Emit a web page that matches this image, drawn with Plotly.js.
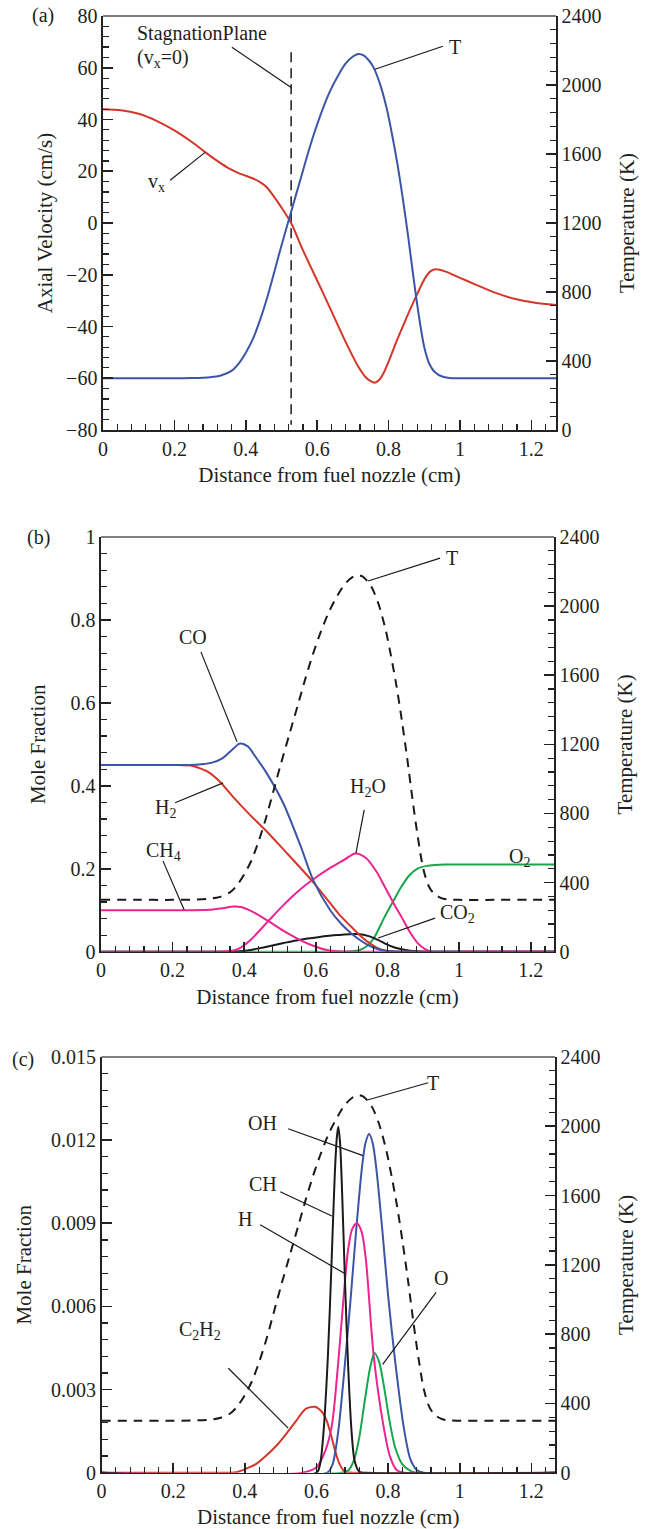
<!DOCTYPE html>
<html>
<head>
<meta charset="utf-8">
<script src="https://cdn.plot.ly/plotly-3.0.1.min.js"></script>
<style>
  html, body { margin: 0; padding: 0; background: #ffffff; }
  #chart { width: 648px; height: 1529px; }
</style>
</head>
<body>
<div id="chart"></div>
<script>
// ---------- Shared temperature profile (K) vs distance (cm) ----------
const tempX = [0, 0.1, 0.2, 0.25, 0.3, 0.33, 0.36, 0.38, 0.4, 0.42, 0.44, 0.46, 0.48, 0.5, 0.527, 0.55, 0.57, 0.59, 0.61, 0.635, 0.66, 0.68, 0.7, 0.715, 0.73, 0.745, 0.757, 0.775, 0.795, 0.81, 0.825, 0.84, 0.855, 0.87, 0.885, 0.9, 0.915, 0.93, 0.95, 0.97, 1.0, 1.1, 1.2, 1.27];
const tempK = [300, 300, 300, 301, 306, 316, 343, 385, 448, 528, 638, 768, 918, 1070, 1265, 1430, 1575, 1710, 1830, 1960, 2060, 2125, 2165, 2180, 2172, 2142, 2105, 2012, 1862, 1710, 1540, 1340, 1120, 880, 660, 480, 380, 335, 310, 302, 300, 300, 300, 300];

// ---------- Panel (a): axial velocity (cm/s) ----------
const vxX = [0, 0.05, 0.1, 0.15, 0.2, 0.25, 0.286, 0.32, 0.35, 0.38, 0.42, 0.44, 0.458, 0.48, 0.505, 0.527, 0.56, 0.614, 0.683, 0.715, 0.735, 0.75, 0.761, 0.772, 0.785, 0.8, 0.82, 0.845, 0.869, 0.903, 0.918, 0.932, 0.96, 1.0, 1.042, 1.1, 1.158, 1.21, 1.27];
const vxV = [44, 43.6, 42.2, 39.5, 35.8, 31.2, 27.4, 24, 21.3, 19.3, 17.2, 15.8, 13.9, 10, 4.9, 0, -10.5, -26.3, -46.9, -55.5, -59.5, -61.1, -61.7, -60.9, -58.3, -53.6, -46.5, -38.3, -30.8, -21.1, -18.6, -17.9, -18.8, -21.2, -23.7, -27, -29.5, -30.8, -31.7];
const stagX = [0.527, 0.527];
const stagV = [66, -78];

// ---------- Panel (b): major species mole fractions ----------
const coX = [0, 0.1, 0.2, 0.25, 0.28, 0.31, 0.34, 0.37, 0.388, 0.41, 0.43, 0.463, 0.509, 0.556, 0.593, 0.64, 0.67, 0.699, 0.725, 0.746, 0.77, 0.79, 0.82, 0.9, 1.0, 1.27];
const coY = [0.45, 0.45, 0.45, 0.45, 0.452, 0.456, 0.467, 0.49, 0.502, 0.495, 0.472, 0.43, 0.358, 0.258, 0.172, 0.10, 0.068, 0.044, 0.027, 0.016, 0.007, 0.003, 0.0005, 0, 0, 0];
const h2X = [0, 0.1, 0.2, 0.25, 0.277, 0.3, 0.332, 0.37, 0.416, 0.463, 0.51, 0.556, 0.59, 0.64, 0.67, 0.699, 0.725, 0.746, 0.77, 0.792, 0.82, 0.9, 1.0, 1.27];
const h2Y = [0.45, 0.45, 0.45, 0.449, 0.442, 0.433, 0.410, 0.372, 0.330, 0.290, 0.246, 0.203, 0.170, 0.117, 0.085, 0.06, 0.038, 0.023, 0.01, 0.003, 0.0005, 0, 0, 0];
const ch4X = [0, 0.1, 0.2, 0.25, 0.3, 0.34, 0.37, 0.39, 0.42, 0.463, 0.51, 0.556, 0.6, 0.631, 0.66, 0.7, 0.8, 1.0, 1.27];
const ch4Y = [0.1, 0.1, 0.1, 0.1, 0.101, 0.105, 0.109, 0.108, 0.098, 0.076, 0.05, 0.028, 0.012, 0.004, 0.001, 0, 0, 0, 0];
const h2oX = [0, 0.2, 0.33, 0.35, 0.37, 0.39, 0.416, 0.463, 0.51, 0.556, 0.59, 0.64, 0.68, 0.71, 0.74, 0.77, 0.792, 0.815, 0.839, 0.862, 0.885, 0.905, 0.923, 1.0, 1.27];
const h2oY = [0, 0, 0, 0.001, 0.003, 0.01, 0.027, 0.07, 0.113, 0.15, 0.173, 0.202, 0.222, 0.237, 0.226, 0.192, 0.157, 0.12, 0.084, 0.048, 0.02, 0.006, 0, 0, 0];
const co2X = [0, 0.35, 0.38, 0.41, 0.44, 0.463, 0.51, 0.556, 0.606, 0.66, 0.718, 0.75, 0.775, 0.792, 0.82, 0.85, 0.88, 0.9, 1.0, 1.27];
const co2Y = [0, 0, 0.0005, 0.003, 0.008, 0.012, 0.021, 0.029, 0.035, 0.04, 0.0425, 0.037, 0.028, 0.02, 0.01, 0.004, 0.001, 0, 0, 0];
const o2X = [0, 0.6, 0.68, 0.7, 0.718, 0.74, 0.76, 0.792, 0.815, 0.839, 0.862, 0.885, 0.91, 0.932, 0.96, 1.0, 1.27];
const o2Y = [0, 0, 0, 0.001, 0.003, 0.012, 0.03, 0.084, 0.12, 0.157, 0.185, 0.201, 0.207, 0.209, 0.21, 0.21, 0.21];

// ---------- Panel (c): minor species mole fractions ----------
const c2h2X = [0, 0.3, 0.36, 0.38, 0.406, 0.43, 0.46, 0.49, 0.517, 0.545, 0.57, 0.596, 0.615, 0.628, 0.64, 0.652, 0.665, 0.68, 0.7, 1.27];
const c2h2Y = [0, 0, 0, 0.00003, 0.00016, 0.0003, 0.00062, 0.001, 0.00142, 0.0019, 0.0023, 0.00238, 0.0022, 0.0019, 0.0014, 0.0008, 0.0003, 0.00003, 0, 0];
const chX = [0, 0.6, 0.61, 0.62, 0.632, 0.642, 0.651, 0.657, 0.661, 0.666, 0.672, 0.68, 0.689, 0.698, 0.707, 0.72, 0.74, 1.27];
const chY = [0, 0, 0.0003, 0.0015, 0.0042, 0.0075, 0.0107, 0.0121, 0.01248, 0.0119, 0.0100, 0.0068, 0.0037, 0.0015, 0.0004, 0.00003, 0, 0];
const hX = [0, 0.56, 0.6, 0.625, 0.643, 0.661, 0.675, 0.688, 0.7, 0.713, 0.726, 0.738, 0.76, 0.787, 0.805, 0.824, 0.845, 1.27];
const hY = [0, 0, 0.0002, 0.0008, 0.0017, 0.0040, 0.0062, 0.0080, 0.0088, 0.009, 0.0087, 0.0077, 0.0042, 0.0017, 0.0006, 0.0001, 0, 0];
const ohX = [0, 0.63, 0.645, 0.661, 0.68, 0.695, 0.71, 0.727, 0.737, 0.747, 0.757, 0.767, 0.785, 0.8, 0.82, 0.843, 0.862, 0.88, 0.9, 1.27];
const ohY = [0, 0, 0.0003, 0.0015, 0.0040, 0.0062, 0.0086, 0.0110, 0.0119, 0.01222, 0.0119, 0.0110, 0.0086, 0.0064, 0.0040, 0.0017, 0.0005, 0.0001, 0, 0];
const oX = [0, 0.67, 0.69, 0.706, 0.72, 0.735, 0.75, 0.762, 0.775, 0.79, 0.805, 0.82, 0.84, 0.865, 0.88, 1.27];
const oY = [0, 0, 0.0001, 0.0005, 0.0013, 0.0026, 0.0038, 0.00432, 0.0040, 0.0030, 0.0018, 0.0009, 0.0003, 0.00005, 0, 0];

// ---------- Styles ----------
const RED = '#d4372a', BLUE = '#3b55a8', MAG = '#ec2390', GREEN = '#17a64c', BLACK = '#1a1a1a';
const FONT = '"Liberation Serif", "Times New Roman", serif';
const TXT = '#231f20';

function line(x, y, color, xa, ya, extra) {
  return Object.assign({
    type: 'scatter', mode: 'lines', x: x, y: y, xaxis: xa, yaxis: ya,
    line: { color: color, width: 2, shape: 'spline', smoothing: 0.8 },
    hoverinfo: 'skip', showlegend: false
  }, extra || {});
}
const dashT = { color: BLACK, width: 2, dash: '9px,7px', shape: 'spline', smoothing: 0.8 };

const traces = [
  // (a)
  line(stagX, stagV, BLACK, 'x', 'y', { line: { color: BLACK, width: 1.5, dash: '10px,6px' } }),
  line(tempX, tempK, BLUE, 'x', 'y2'),
  line(vxX, vxV, RED, 'x', 'y'),
  // (b)
  line(o2X, o2Y, GREEN, 'x2', 'y3'),
  line(co2X, co2Y, BLACK, 'x2', 'y3'),
  line(ch4X, ch4Y, MAG, 'x2', 'y3'),
  line(h2oX, h2oY, MAG, 'x2', 'y3'),
  line(h2X, h2Y, RED, 'x2', 'y3'),
  line(coX, coY, BLUE, 'x2', 'y3'),
  line(tempX, tempK, BLACK, 'x2', 'y4', { line: dashT }),
  // (c)
  line(oX, oY, GREEN, 'x3', 'y5'),
  line(c2h2X, c2h2Y, RED, 'x3', 'y5'),
  line(ohX, ohY, BLUE, 'x3', 'y5'),
  line(hX, hY, MAG, 'x3', 'y5'),
  line(chX, chY, BLACK, 'x3', 'y5'),
  line(tempX, tempK, BLACK, 'x3', 'y6', { line: dashT })
];

const tickFont = { family: FONT, size: 20, color: TXT };
const titleFont = { family: FONT, size: 21, color: TXT };

function xAxis(domain, anchor, range) {
  return {
    domain: domain, anchor: anchor, range: range,
    showgrid: false, zeroline: false, showline: true, mirror: false,
    linecolor: '#222', linewidth: 1.6,
    ticks: 'inside', ticklen: 10, tickwidth: 1.6, tickcolor: '#222',
    dtick: 0.2, tick0: 0,
    minor: { dtick: 0.04, tick0: 0, ticks: 'inside', ticklen: 6, tickwidth: 1.2, tickcolor: '#222', showgrid: false },
    tickfont: tickFont,
    title: { text: 'Distance from fuel nozzle (cm)', font: titleFont, standoff: 9 }
  };
}
function yLeft(domain, anchor, range, dtick, minor, title, standoff) {
  return {
    domain: domain, anchor: anchor, range: range,
    showgrid: false, zeroline: false, showline: true,
    linecolor: '#222', linewidth: 1.6,
    ticks: 'inside', ticklen: 10, tickwidth: 1.6, tickcolor: '#222',
    dtick: dtick, tick0: 0,
    minor: { dtick: minor, tick0: 0, ticks: 'inside', ticklen: 6, tickwidth: 1.2, tickcolor: '#222', showgrid: false },
    tickfont: tickFont,
    title: { text: title, font: titleFont, standoff: standoff }
  };
}
function yRight(over, anchor) {
  return {
    overlaying: over, anchor: anchor, side: 'right', range: [0, 2400],
    showgrid: false, zeroline: false, showline: true,
    linecolor: '#222', linewidth: 1.6,
    ticks: 'inside', ticklen: 10, tickwidth: 1.6, tickcolor: '#222',
    dtick: 400, tick0: 0,
    minor: { dtick: 80, tick0: 0, ticks: 'inside', ticklen: 6, tickwidth: 1.2, tickcolor: '#222', showgrid: false },
    tickfont: tickFont,
    title: { text: 'Temperature (K)', font: titleFont, standoff: 19 }
  };
}

// ---------- Labels & leader lines (data coordinates of each panel) ----------
const labels = [
  // panel (a)
  { t: 'StagnationPlane', x: 0.09, y: 73.2, xr: 'x', yr: 'y', anchor: 'left' },
  { t: '(v<sub>x</sub>=0)', x: 0.09, y: 63.5, xr: 'x', yr: 'y', anchor: 'left' },
  { t: 'v<sub>x</sub>', x: 0.151, y: 15.7, xr: 'x', yr: 'y' },
  { t: 'T', x: 0.986, y: 67.9, xr: 'x', yr: 'y' },
  // panel (b)
  { t: 'T', x: 0.98, y: 0.949, xr: 'x2', yr: 'y3' },
  { t: 'CO', x: 0.257, y: 0.759, xr: 'x2', yr: 'y3' },
  { t: 'H<sub>2</sub>', x: 0.179, y: 0.346, xr: 'x2', yr: 'y3' },
  { t: 'CH<sub>4</sub>', x: 0.175, y: 0.241, xr: 'x2', yr: 'y3' },
  { t: 'H<sub>2</sub>O', x: 0.746, y: 0.397, xr: 'x2', yr: 'y3' },
  { t: 'O<sub>2</sub>', x: 1.17, y: 0.228, xr: 'x2', yr: 'y3' },
  { t: 'CO<sub>2</sub>', x: 0.995, y: 0.093, xr: 'x2', yr: 'y3' },
  // panel (c)
  { t: 'T', x: 0.926, y: 0.01407, xr: 'x3', yr: 'y5' },
  { t: 'OH', x: 0.449, y: 0.01263, xr: 'x3', yr: 'y5' },
  { t: 'CH', x: 0.451, y: 0.01043, xr: 'x3', yr: 'y5' },
  { t: 'H', x: 0.401, y: 0.00917, xr: 'x3', yr: 'y5' },
  { t: 'C<sub>2</sub>H<sub>2</sub>', x: 0.276, y: 0.00514, xr: 'x3', yr: 'y5' },
  { t: 'O', x: 0.948, y: 0.00701, xr: 'x3', yr: 'y5' }
];
const leaders = [
  // panel (a)
  [0.361, 67.9, 0.527, 52.4, 'x', 'y'],
  [0.188, 16.5, 0.286, 27.3, 'x', 'y'],
  [0.952, 68.3, 0.762, 59.4, 'x', 'y'],
  // panel (b)
  [0.947, 0.949, 0.746, 0.894, 'x2', 'y3'],
  [0.279, 0.723, 0.380, 0.506, 'x2', 'y3'],
  [0.207, 0.359, 0.341, 0.407, 'x2', 'y3'],
  [0.173, 0.219, 0.232, 0.101, 'x2', 'y3'],
  [0.735, 0.342, 0.712, 0.238, 'x2', 'y3'],
  [0.933, 0.081, 0.774, 0.033, 'x2', 'y3'],
  // panel (c)
  [0.912, 0.01407, 0.742, 0.01345, 'x3', 'y5'],
  [0.521, 0.01241, 0.730, 0.01144, 'x3', 'y5'],
  [0.499, 0.01014, 0.643, 0.00926, 'x3', 'y5'],
  [0.443, 0.00895, 0.680, 0.00718, 'x3', 'y5'],
  [0.354, 0.00377, 0.521, 0.00161, 'x3', 'y5'],
  [0.934, 0.00651, 0.785, 0.00391, 'x3', 'y5']
];
const panelTags = [
  { t: '(a)', x: 43 / 648, y: 1 - 16 / 1529 },
  { t: '(b)', x: 38 / 648, y: 1 - 538 / 1529 },
  { t: '(c)', x: 23 / 648, y: 1 - 1059 / 1529 }
];

const annotations = labels.map(l => ({
  text: l.t, x: l.x, y: l.y, xref: l.xr, yref: l.yr,
  xanchor: l.anchor || 'center', yanchor: 'middle', showarrow: false,
  font: { family: FONT, size: 20, color: TXT }
})).concat(panelTags.map(p => ({
  text: p.t, x: p.x, y: p.y, xref: 'paper', yref: 'paper',
  xanchor: 'center', yanchor: 'middle', showarrow: false,
  font: { family: FONT, size: 20, color: TXT }
})));

const shapes = leaders.map(s => ({
  type: 'line', x0: s[0], y0: s[1], x1: s[2], y1: s[3], xref: s[4], yref: s[5],
  line: { color: BLACK, width: 1.2 }
})).concat([['x', 'y'], ['x2', 'y3'], ['x3', 'y5']].map(p => ({
  type: 'line', xref: p[0] + ' domain', yref: p[1] + ' domain',
  x0: 0, x1: 1, y0: 1, y1: 1, line: { color: '#555', width: 1.3 }
})));

const layout = {
  width: 648, height: 1529,
  margin: { l: 0, r: 0, t: 0, b: 0 },
  paper_bgcolor: '#ffffff', plot_bgcolor: '#ffffff',
  showlegend: false,
  xaxis: xAxis([103 / 648, 556 / 648], 'y', [0, 1.269]),
  yaxis: yLeft([1 - 430 / 1529, 1 - 16 / 1529], 'x', [-80, 80], 20, 4, 'Axial Velocity (cm/s)', 8),
  yaxis2: yRight('y', 'x'),
  xaxis2: xAxis([101 / 648, 554 / 648], 'y3', [0, 1.265]),
  yaxis3: yLeft([1 - 951.7 / 1529, 1 - 537 / 1529], 'x2', [0, 1], 0.2, 0.04, 'Mole Fraction', 19),
  yaxis4: yRight('y3', 'x2'),
  xaxis3: xAxis([101.5 / 648, 555 / 648], 'y5', [0, 1.266]),
  yaxis5: yLeft([1 - 1472.7 / 1529, 1 - 1057 / 1529], 'x3', [0, 0.015], 0.003, 0.0006, 'Mole Fraction', 13),
  yaxis6: yRight('y5', 'x3'),
  annotations: annotations,
  shapes: shapes
};

Plotly.newPlot('chart', traces, layout, { staticPlot: true, displayModeBar: false });
</script>
</body>
</html>
